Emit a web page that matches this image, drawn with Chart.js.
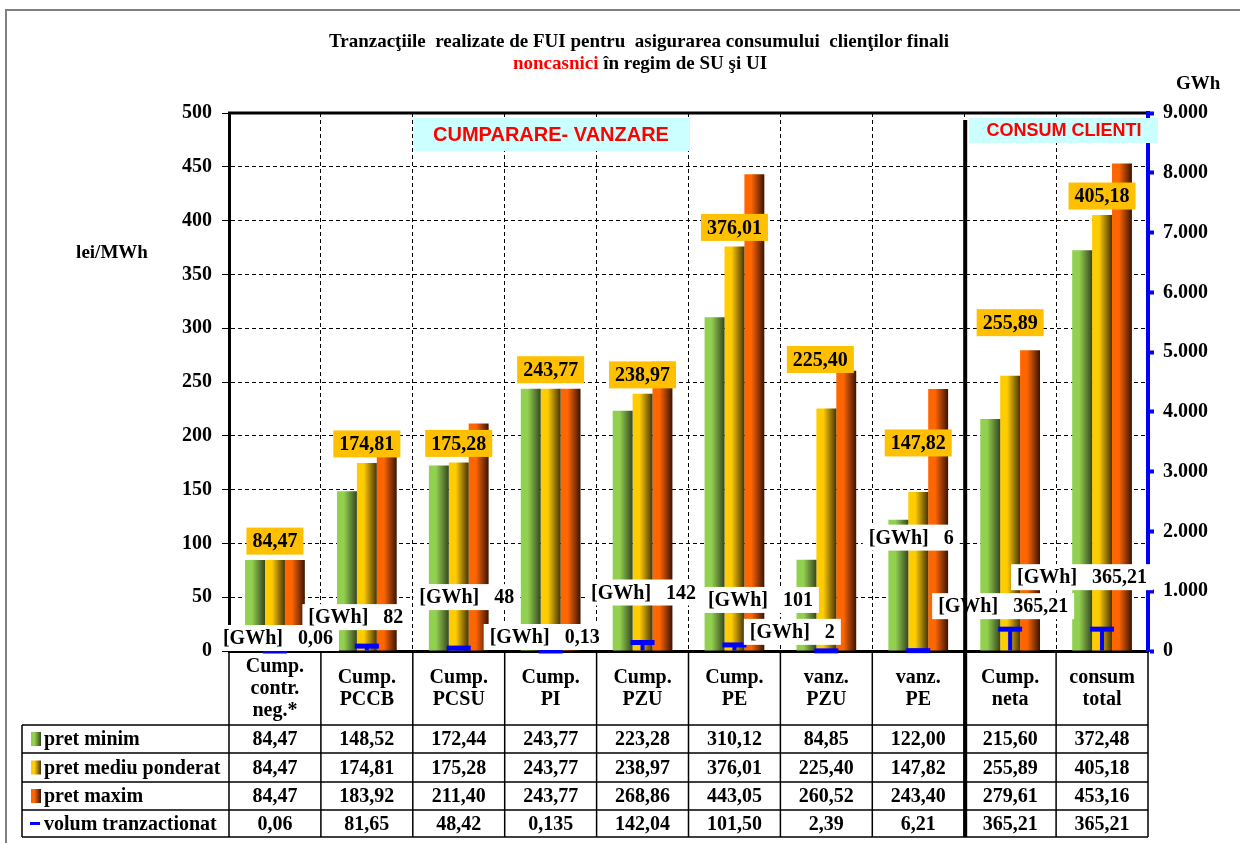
<!DOCTYPE html>
<html>
<head>
<meta charset="utf-8">
<script src="https://cdn.jsdelivr.net/npm/chart.js@4.4.1/dist/chart.umd.min.js"></script>
<style>
  html, body { margin: 0; background: #fff; }
  #wrap { width: 1240px; height: 843px; }
</style>
</head>
<body>
<div id="wrap"><canvas id="c" width="1240" height="843"></canvas></div>
<script>
const categories = [
  ['Cump.', 'contr.', 'neg.*'], ['Cump.', 'PCCB'], ['Cump.', 'PCSU'], ['Cump.', 'PI'],
  ['Cump.', 'PZU'], ['Cump.', 'PE'], ['vanz.', 'PZU'], ['vanz.', 'PE'],
  ['Cump.', 'neta'], ['consum', 'total']
];
const pretMinim = [84.47, 148.52, 172.44, 243.77, 223.28, 310.12, 84.85, 122.00, 215.60, 372.48];
const pretMediu = [84.47, 174.81, 175.28, 243.77, 238.97, 376.01, 225.40, 147.82, 255.89, 405.18];
const pretMaxim = [84.47, 183.92, 211.40, 243.77, 268.86, 443.05, 260.52, 243.40, 279.61, 453.16];
const volum = [0.06, 81.65, 48.42, 0.135, 142.04, 101.50, 2.39, 6.21, 365.21, 365.21];
// volume labels as printed on the chart (Excel rounded some, not others)
const volumText = ['0,06', '82', '48', '0,13', '142', '101', '2', '6', '365,21', '365,21'];
const seriesNames = ['pret minim', 'pret mediu ponderat', 'pret maxim', 'volum tranzactionat'];

// label nudges (pixels), hand placed in the original
const mediuNudge = [[0,0],[0,0],[0,0],[0,0],[0,0],[0,0],[-6,-30],[0,-30],[0,-34],[0,0]];
const gwhNudge = [[3,-13],[-11,-29],[8,-51],[-6,-14],[1,-50],[26,-45],[-34,-19],[-7,-113],[-7,-23],[-20,-52]];

const SERIF = '"Liberation Serif", "Times New Roman", serif';
const SANS = '"Liberation Sans", Arial, sans-serif';
const CAT_PCT = 0.65;
const BLUE = '#0000FF';
const shades = [['#92D050', '#36461f'], ['#FFCC00', '#463300'], ['#FF6600', '#3a1300']];

function barFill(k) {
  return (ctx) => {
    const chart = ctx.chart;
    const xs = chart.scales.x;
    if (ctx.type !== 'data' || !xs || !xs.width) return shades[k][0];
    const gw = xs.width / categories.length * CAT_PCT;
    const left = xs.getPixelForValue(ctx.dataIndex) - gw / 2 + k * gw / 3;
    const g = chart.ctx.createLinearGradient(left, 0, left + gw / 3, 0);
    g.addColorStop(0, shades[k][0]);
    g.addColorStop(0.35, shades[k][0]);
    g.addColorStop(1, shades[k][1]);
    return g;
  };
}

function fmt(v, volume) {
  const s = volume ? v.toFixed(3).replace(/0$/, '') : v.toFixed(2);
  return s.replace('.', ',');
}

function boxText(ctx, text, cx, cy, fill, font, padX, h) {
  ctx.font = font;
  const w = ctx.measureText(text).width + padX * 2;
  ctx.fillStyle = fill;
  ctx.fillRect(cx - w / 2, cy - h / 2, w, h);
  ctx.fillStyle = '#000';
  ctx.textAlign = 'center';
  ctx.textBaseline = 'middle';
  ctx.fillText(text, cx, cy + 1);
}

const decor = {
  id: 'decor',
  beforeDraw(chart) {
    const ctx = chart.ctx;
    ctx.save();
    ctx.fillStyle = '#fff';
    ctx.fillRect(0, 0, chart.width, chart.height);
    ctx.strokeStyle = '#808080';
    ctx.lineWidth = 2;
    ctx.strokeRect(6, 10, 1260, 860);

    ctx.fillStyle = '#000';
    ctx.textBaseline = 'middle';
    ctx.textAlign = 'center';
    ctx.font = 'bold 19px ' + SERIF;
    ctx.fillText('Tranzacţiile  realizate de FUI pentru  asigurarea consumului  clienţilor finali', 639, 42);
    const red = 'noncasnici', rest = ' în regim de SU şi UI';
    const wr = ctx.measureText(red).width, wt = ctx.measureText(rest).width;
    const x0 = 640 - (wr + wt) / 2;
    ctx.textAlign = 'left';
    ctx.fillStyle = '#FF0000';
    ctx.fillText(red, x0, 64);
    ctx.fillStyle = '#000';
    ctx.fillText(rest, x0 + wr, 64);

    ctx.font = 'bold 19px ' + SERIF;
    ctx.textAlign = 'center';
    ctx.fillText('lei/MWh', 112, 253);
    ctx.textAlign = 'left';
    ctx.fillText('GWh', 1176, 84);
    ctx.restore();
  },
  afterDatasetsDraw(chart) {
    const ctx = chart.ctx;
    ctx.save();
    const mid = chart.getDatasetMeta(3).data;
    mid.forEach((el, i) => {
      const [dx, dy] = mediuNudge[i];
      boxText(ctx, fmt(pretMediu[i]), el.x + dx, el.y - 5 - 14 + dy, '#FFC000', 'bold 20px ' + SERIF, 6, 27);
    });
    const pts = chart.getDatasetMeta(0).data;
    pts.forEach((el, i) => {
      const [dx, dy] = gwhNudge[i];
      boxText(ctx, '[GWh]   ' + volumText[i], el.x + dx, el.y + dy, '#fff', 'bold 20px ' + SERIF, 6, 26);
    });
    ctx.restore();
  },
  afterDraw(chart) {
    const ctx = chart.ctx;
    const xs = chart.scales.x;
    const area = chart.chartArea;
    const n = categories.length;
    const cw = (area.right - area.left) / n;
    const edge = (i) => area.left + i * cw;
    ctx.save();

    // top frame line
    ctx.strokeStyle = '#000';
    ctx.lineWidth = 3;
    ctx.beginPath();
    ctx.moveTo(area.left - 1, area.top);
    ctx.lineTo(area.right - 2, area.top);
    ctx.stroke();

    // table
    const rowY = [725, 753, 782, 810, 837];
    const tLeft = 22;
    ctx.lineWidth = 1.5;
    ctx.strokeStyle = '#000';
    ctx.beginPath();
    for (let i = 0; i <= n; i++) {
      ctx.moveTo(edge(i), area.bottom);
      ctx.lineTo(edge(i), rowY[4]);
    }
    ctx.moveTo(tLeft, rowY[0]);
    ctx.lineTo(tLeft, rowY[4]);
    rowY.forEach((y) => { ctx.moveTo(tLeft, y); ctx.lineTo(area.right, y); });
    ctx.stroke();

    ctx.fillStyle = '#000';
    ctx.font = 'bold 20px ' + SERIF;
    ctx.textAlign = 'center';
    ctx.textBaseline = 'middle';
    categories.forEach((lines, i) => {
      const cx = xs.getPixelForValue(i);
      const h = (lines.length - 1) * 22;
      lines.forEach((t, j) => ctx.fillText(t, cx, 688 - h / 2 + j * 22 + 1));
    });
    const rows = [pretMinim, pretMediu, pretMaxim, volum];
    rows.forEach((vals, r) => {
      const cy = (rowY[r] + rowY[r + 1]) / 2 + 1;
      vals.forEach((v, i) => ctx.fillText(fmt(v, r === 3), xs.getPixelForValue(i), cy));
    });
    ctx.textAlign = 'left';
    rows.forEach((vals, r) => {
      const cy = (rowY[r] + rowY[r + 1]) / 2;
      if (r < 3) {
        const g = ctx.createLinearGradient(31, 0, 41, 0);
        g.addColorStop(0, shades[r][0]);
        g.addColorStop(0.35, shades[r][0]);
        g.addColorStop(1, shades[r][1]);
        ctx.fillStyle = g;
        ctx.fillRect(31, cy - 7, 10, 14);
      } else {
        ctx.fillStyle = BLUE;
        ctx.fillRect(30, cy - 1.5, 10, 3);
      }
      ctx.fillStyle = '#000';
      ctx.fillText(seriesNames[r], 44, cy + 1);
    });

    // separator between trading and consumption
    ctx.fillStyle = '#000';
    ctx.fillRect(edge(8) - 1, 120, 4, rowY[4] - 120);

    // section captions
    ctx.font = 'bold 20px ' + SANS;
    ctx.fillStyle = '#CCFFFF';
    ctx.fillRect(413, 118, 277, 33);
    ctx.fillStyle = '#FF0000';
    ctx.textAlign = 'center';
    ctx.fillText('CUMPARARE- VANZARE', 551, 135);
    ctx.font = 'bold 18px ' + SANS;
    ctx.fillStyle = '#CCFFFF';
    ctx.fillRect(969, 118, 189, 25);
    ctx.fillStyle = '#FF0000';
    ctx.fillText('CONSUM CLIENTI', 1064, 131);
    ctx.restore();
  }
};

new Chart(document.getElementById('c'), {
  type: 'bar',
  data: {
    labels: categories,
    datasets: [
      {
        type: 'line', label: seriesNames[3], data: volum, yAxisID: 'y2',
        showLine: false, pointStyle: 'line', pointRadius: 12, pointBorderWidth: 5,
        borderColor: BLUE, backgroundColor: BLUE, order: 0, clip: false
      },
      {
        type: 'bar', label: 'stem', data: volum, yAxisID: 'y2', grouped: false,
        maxBarThickness: 4, backgroundColor: BLUE, order: 0
      },
      { label: seriesNames[0], data: pretMinim, backgroundColor: barFill(0), order: 1 },
      { label: seriesNames[1], data: pretMediu, backgroundColor: barFill(1), order: 1 },
      { label: seriesNames[2], data: pretMaxim, backgroundColor: barFill(2), order: 1 }
    ]
  },
  options: {
    responsive: false,
    animation: false,
    events: [],
    categoryPercentage: CAT_PCT,
    barPercentage: 1,
    layout: { padding: { left: 0, right: 0, top: 113, bottom: 192 } },
    font: { family: SERIF, weight: 'bold', size: 20 },
    plugins: { legend: { display: false }, tooltip: { enabled: false }, title: { display: false } },
    scales: {
      x: {
        offset: true,
        ticks: { display: false },
        grid: { offset: true, color: '#000', lineWidth: 1, drawTicks: false },
        border: { color: '#000', width: 3, dash: [4, 3] },
        afterFit: (s) => { s.height = 0; }
      },
      y: {
        min: 0, max: 500,
        ticks: { stepSize: 50, color: '#000', padding: 10, font: { family: SERIF, weight: 'bold', size: 20 } },
        grid: { color: '#000', lineWidth: 1, tickLength: 7 },
        border: { color: '#000', width: 3, dash: [4, 3] },
        afterFit: (s) => { s.width = 229; }
      },
      y2: {
        position: 'right', min: 0, max: 9000,
        ticks: {
          stepSize: 1000, color: '#000', padding: 9,
          font: { family: SERIF, weight: 'bold', size: 20 },
          callback: (v) => (v === 0 ? '0' : (v / 1000) + '.000')
        },
        grid: { drawOnChartArea: false, color: BLUE, tickColor: BLUE, tickLength: 6, tickWidth: 4 },
        border: { color: BLUE, width: 4 },
        afterFit: (s) => { s.width = 92; }
      }
    }
  },
  plugins: [decor]
});
</script>
</body>
</html>
